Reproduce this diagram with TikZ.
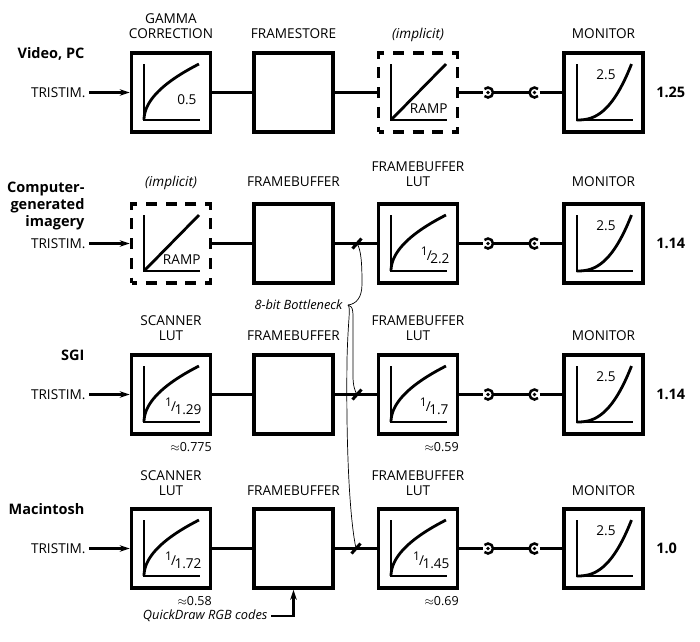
\documentclass[tikz,border=0pt]{standalone}
\usepackage{fontspec}
\setmainfont{Open Sans}
\usetikzlibrary{arrows.meta}
\newcommand\invexp[1]{\raisebox{4.5pt}{\fontsize{12}{12}\selectfont 1}\kern-1pt/\kern-1.5pt\raisebox{-3pt}{#1}}
\begin{document}
\begin{tikzpicture}[x=1pt, y=-1pt,
    font=\fontsize{13.6}{15.5}\selectfont,
    blk/.style={draw, line width=3.5pt, minimum size=79pt, inner sep=0pt},
    dblk/.style={blk, dash pattern=on 11pt off 8.75pt, dash phase=5.5pt},
    plug/.style={circle, minimum size=10pt, inner sep=0pt, outer sep=0pt},
    wire/.style={line width=2.2pt},
    axis/.style={line width=2pt},
    crv/.style={line width=2.8pt},
    ttl/.style={align=center, anchor=south, text depth=0pt},
    rowttl/.style={font=\fontsize{14.5}{17}\selectfont\bfseries, align=right},
    apx/.style={font=\fontsize{12.5}{14}\selectfont, anchor=north east},
    note/.style={font=\fontsize{12.8}{15}\selectfont\itshape},
    bneck/.style={line width=0.7pt},
    cut/.style={line width=3pt},
    >={Stealth[length=10pt, width=6.5pt]}]
    \useasboundingbox (0,0) rectangle (700,641);
    % the four pipelines
    \foreach \row/\yy/\ta/\tc/\gain/\ts in {1/92.5/blk/dblk/1.25/9, 2/243.5/dblk/blk/1.14/12, 3/394.5/blk/blk/1.14/9, 4/548.5/blk/blk/1.0/8}
        {
            \node[\ta] (a\row) at (171,\yy) {};
            \node[blk] (b\row) at (293.5,\yy) {};
            \node[\tc] (c\row) at (418,\yy) {};
            \node[plug] (p\row) at (488,\yy) {};
            \node[plug] (j\row) at (534.5,\yy) {};
            \node[blk] (m\row) at (603.5,\yy) {};
            \node[anchor=east] (tri\row) at (89,\yy) {TRISTIM.};
            \node[rowttl, anchor=west] (gn\row) at ([xshift=8pt]m\row.east) {\gain};
            \node[ttl] (tm\row) at ([yshift=\ts pt]m\row.north) {MONITOR};
            \node (ex\row) at ([shift={(2.5,-17.5)}]m\row.center) {2.5};
            \draw[wire, ->] (tri\row) -- (a\row);
            \draw[wire] (a\row) -- (b\row) (b\row) -- (c\row) (c\row) -- (p\row.west)
                (p\row.east) -- (j\row.west) (j\row.east) -- (m\row);
            \draw[wire, line width=2.5pt] (p\row.center) ++(135:5) arc[start angle=135, end angle=-135, radius=5];
            \draw[wire, line width=2.5pt] (j\row.center) ++(45:5) arc[start angle=45, end angle=315, radius=5];
            \fill (p\row) circle[radius=1.9] (j\row) circle[radius=1.9];
            \begin{scope}[shift={(m\row.center)}]
                \draw[axis] (-27,-28.5) -- (-27,27.5) -- (29,27.5);
                \draw[crv] plot[domain=0:1, samples=40, smooth] ({-27+55*\x},{27.5-56*\x*\x*sqrt(\x)});
            \end{scope}
        }
    % transfer curves
    \foreach \bx in {a1,a3,a4,c2,c3,c4}
        {
            \begin{scope}[shift={(\bx.center)}]
                \draw[axis] (-27,-28.5) -- (-27,27.5) -- (29,27.5);
                \draw[crv] plot[domain=0:1, samples=30, smooth] ({-27+55*\x*\x},{27.5-56*\x});
            \end{scope}
        }
    \foreach \bx in {c1,a2}
        {
            \begin{scope}[shift={(\bx.center)}]
                \draw[axis] (-27,-28.5) -- (-27,27.5) -- (29,27.5);
                \draw[crv] (-27,27.5) -- (28,-28.5);
            \end{scope}
            \node[anchor=east] (rmp\bx) at ([shift={(33,16)}]\bx.center) {RAMP};
        }
    \node[anchor=east] (v1) at ([shift={(29,7.5)}]a1.center) {0.5};
    \node[anchor=east] (v3) at ([shift={(34,12)}]a3.center) {\invexp{1.29}};
    \node[anchor=east] (v4) at ([shift={(34,12)}]a4.center) {\invexp{1.72}};
    \node[anchor=east] (w2) at ([shift={(35,12)}]c2.center) {\invexp{2.2}};
    \node[anchor=east] (w3) at ([shift={(34,12)}]c3.center) {\invexp{1.7}};
    \node[anchor=east] (w4) at ([shift={(35,12)}]c4.center) {\invexp{1.45}};
    \node[apx] (x3) at ([shift={(3,3)}]a3.south east) {$\approx$0.775};
    \node[apx] (x4) at ([shift={(3,3)}]a4.south east) {$\approx$0.58};
    \node[apx] (y3) at ([shift={(3,3)}]c3.south east) {$\approx$0.59};
    \node[apx] (y4) at ([shift={(3,3)}]c4.south east) {$\approx$0.69};
    % titles
    \node[ttl] (t1a) at ([yshift=9pt]a1.north) {GAMMA\\CORRECTION};
    \node[ttl] (t1b) at ([yshift=9pt]b1.north) {FRAMESTORE};
    \node[ttl] (t1c) at ([yshift=9pt]c1.north) {\itshape (implicit)};
    \node[ttl] (t2a) at ([yshift=12pt]a2.north) {\itshape (implicit)};
    \node[ttl] (t2b) at ([yshift=12pt]b2.north) {FRAMEBUFFER};
    \node[ttl] (t2c) at ([yshift=12pt]c2.north) {FRAMEBUFFER\\LUT};
    \node[ttl] (t3a) at ([yshift=9pt]a3.north) {SCANNER\\LUT};
    \node[ttl] (t3b) at ([yshift=9pt]b3.north) {FRAMEBUFFER};
    \node[ttl] (t3c) at ([yshift=9pt]c3.north) {FRAMEBUFFER\\LUT};
    \node[ttl] (t4a) at ([yshift=8pt]a4.north) {SCANNER\\LUT};
    \node[ttl] (t4b) at ([yshift=8pt]b4.north) {FRAMEBUFFER};
    \node[ttl] (t4c) at ([yshift=8pt]c4.north) {FRAMEBUFFER\\LUT};
    \node[rowttl, anchor=base east] (rt1) at (88,58.3) {Video, PC};
    \node[rowttl, anchor=north east] (rt2) at (88,178) {Computer-\\generated\\imagery};
    \node[rowttl, anchor=base east] (rt3) at (88,360) {SGI};
    \node[rowttl, anchor=base east] (rt4) at (88,514) {Macintosh};
    % bottleneck
    \node[note, anchor=east] (bn) at (346,305) {8-bit Bottleneck};
    \coordinate (tip) at ([xshift=2pt]bn.east);
    \coordinate (s2) at (357,243.5);
    \coordinate (s3) at (357,394.5);
    \coordinate (s4) at (356,548.5);
    \draw[bneck] (tip) .. controls (356,304) and (362,298) .. (362,284) .. controls (362,262) and (361,250) .. (s2);
    \draw[bneck] (tip) .. controls (354,306) and (353,313) .. (353,330) -- (353,376) .. controls (353,386) and (355,391) .. (s3);
    \draw[bneck] (tip) .. controls (351,308) and (348,318) .. (347,360) .. controls (346,440) and (349,515) .. (s4);
    \foreach \s in {s2,s3,s4}
        \draw[cut] ([shift={(-4.5,5)}]\s) -- ([shift={(4.5,-5)}]\s);
    % quickdraw input
    \node[note, anchor=east] (qd) at (271,616) {QuickDraw RGB codes};
    \draw[wire, ->] (qd.east) -| (b4.south);
\end{tikzpicture}
\end{document}
